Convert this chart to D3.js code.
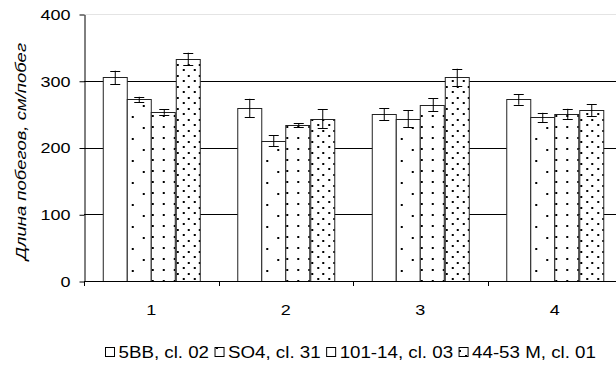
<!DOCTYPE html>
<html>
<head>
<meta charset="utf-8">
<script src="https://cdn.jsdelivr.net/npm/d3@7"></script>
<style>
  body { margin: 0; background: #fff; }
  svg { display: block; font-family: "Liberation Sans", Arial, sans-serif; }
</style>
</head>
<body>
<svg id="chart" width="616" height="366"></svg>
<script>
// categories and series
const categories = ['1', '2', '3', '4']
const seriesNames = ['5BB, cl. 02', 'SO4, cl. 31', '101-14, cl. 03', '44-53 M, cl. 01']

// mean shoot length, per series across categories
const v5BB   = [305, 259, 250, 272]
const vSO4   = [272, 210, 243, 245]
const v10114 = [253, 233, 264, 250]
const v4453  = [333, 243, 305, 256]

// error bar half-widths
const e5BB   = [10, 14, 9, 8]
const eSO4   = [4, 8, 13, 7]
const e10114 = [4, 3, 10, 8]
const e4453  = [9, 14, 13, 9]

const yTicks = [0, 100, 200, 300, 400]
const yTitle = 'Длина побегов,  см/побег'

const values = [v5BB, vSO4, v10114, v4453]
const errors = [e5BB, eSO4, e10114, e4453]

const svg = d3.select('#chart')
const stretch = 1.2  // the picture is a bit wider than its type

// stretch text horizontally like the reference
function widen(sel, k) {
    sel.each(function() {
        let len = this.getComputedTextLength()
        d3.select(this).attr('textLength', len * k).attr('lengthAdjust', 'spacingAndGlyphs')
    })
}

const x = d3.scaleBand()
    .domain(categories)
    .range([84, 622])
    .paddingInner(0.279)
    .paddingOuter(0.1395)

const xs = d3.scaleBand()
    .domain(seriesNames)
    .range([0, x.bandwidth()])

const y = d3.scaleLinear()
    .domain([0, 400])
    .range([281, 14])

// fill patterns (dots)
const defs = svg.append('defs')
function dotPattern(id, size, dots) {
    let p = defs.append('pattern')
        .attr('id', id)
        .attr('patternUnits', 'userSpaceOnUse')
        .attr('width', size).attr('height', size)
    p.append('rect').attr('width', size).attr('height', size).attr('fill', '#fff')
    dots.forEach(d => {
        p.append('rect').attr('x', d[0]).attr('y', d[1]).attr('width', 2).attr('height', 2).attr('fill', '#000')
    })
}
dotPattern('p1', 22, [[7, 6], [18, 17]])
dotPattern('p2', 11, [[5, 5]])
dotPattern('p3', 11, [[3, 3], [8, 9]])
const fills = ['#fff', 'url(#p1)', 'url(#p2)', 'url(#p3)']

// grid lines
svg.append('g')
    .selectAll('line')
    .data([100, 200, 300])
    .join('line')
    .attr('x1', 84).attr('x2', 616)
    .attr('y1', d => Math.round(y(d)) + 0.5)
    .attr('y2', d => Math.round(y(d)) + 0.5)
    .attr('stroke', '#000')
svg.append('line')
    .attr('x1', 84).attr('x2', 616)
    .attr('y1', Math.round(y(400)) + 0.5).attr('y2', Math.round(y(400)) + 0.5)
    .attr('stroke', '#e4e4e4')

// bars
const groups = svg.append('g')
    .selectAll('g')
    .data(categories)
    .join('g')
    .attr('transform', c => `translate(${x(c)},0)`)

const cells = groups.selectAll('g')
    .data((c, ci) => seriesNames.map((s, si) => ({ s: s, si: si, v: values[si][ci], e: errors[si][ci] })))
    .join('g')

cells.append('rect')
    .attr('x', d => Math.round(xs(d.s)) + 0.5)
    .attr('y', d => Math.round(y(d.v)) + 0.5)
    .attr('width', Math.round(xs.bandwidth()))
    .attr('height', d => Math.round(y(0)) - Math.round(y(d.v)))
    .attr('fill', d => fills[d.si])
    .attr('stroke', '#222')

// error bars
const cx = d => Math.round(xs(d.s) + xs.bandwidth() / 2) + 0.5
cells.append('line')
    .attr('x1', cx).attr('x2', cx)
    .attr('y1', d => y(d.v + d.e)).attr('y2', d => y(d.v - d.e))
    .attr('stroke', '#000')
cells.selectAll('line.cap')
    .data(d => [d.v + d.e, d.v - d.e].map(t => ({ d: d, t: t })))
    .join('line')
    .attr('class', 'cap')
    .attr('x1', o => cx(o.d) - 5).attr('x2', o => cx(o.d) + 5)
    .attr('y1', o => Math.round(y(o.t)) + 0.5).attr('y2', o => Math.round(y(o.t)) + 0.5)
    .attr('stroke', '#000')

// y axis
const gy = svg.append('g')
    .attr('transform', 'translate(84.5,0.5)')
    .call(d3.axisLeft(y).tickValues(yTicks).tickSize(5).tickPadding(9).tickSizeOuter(0))
gy.select('.domain').attr('stroke', '#000')
gy.selectAll('text').attr('font-size', 15).attr('fill', '#000').attr('font-family', '"Liberation Sans", Arial, sans-serif')
widen(gy.selectAll('text'), stretch)

// x axis: baseline, boundary ticks, category labels
svg.append('line')
    .attr('x1', 84).attr('x2', 616)
    .attr('y1', 281.5).attr('y2', 281.5)
    .attr('stroke', '#000')
svg.append('g')
    .selectAll('line')
    .data(d3.range(categories.length + 1))
    .join('line')
    .attr('x1', i => Math.round(x.range()[0] + i * x.step()) + 0.5)
    .attr('x2', i => Math.round(x.range()[0] + i * x.step()) + 0.5)
    .attr('y1', 281).attr('y2', 286)
    .attr('stroke', '#000')
const xl = svg.append('g')
    .selectAll('text')
    .data(categories)
    .join('text')
    .attr('x', c => x(c) + x.bandwidth() / 2)
    .attr('y', 315)
    .attr('text-anchor', 'middle')
    .attr('font-size', 15)
    .text(c => c)
widen(xl, stretch)

// y title
svg.append('text')
    .attr('transform', 'translate(26,151.5) rotate(-90)')
    .attr('text-anchor', 'middle')
    .attr('font-size', 14)
    .attr('font-style', 'italic')
    .attr('textLength', 217)
    .attr('lengthAdjust', 'spacingAndGlyphs')
    .text(yTitle)

// legend
let lx = 105.5
seriesNames.forEach((s, i) => {
    svg.append('rect')
        .attr('x', lx).attr('y', 347.5)
        .attr('width', 9).attr('height', 9)
        .attr('fill', fills[i])
        .attr('stroke', '#000')
    let t = svg.append('text')
        .attr('x', lx + 13).attr('y', 358)
        .attr('font-size', 16)
        .text(s)
    widen(t, 1.17)
    lx += 13 + (+t.attr('textLength')) + 6
})
</script>
</body>
</html>
